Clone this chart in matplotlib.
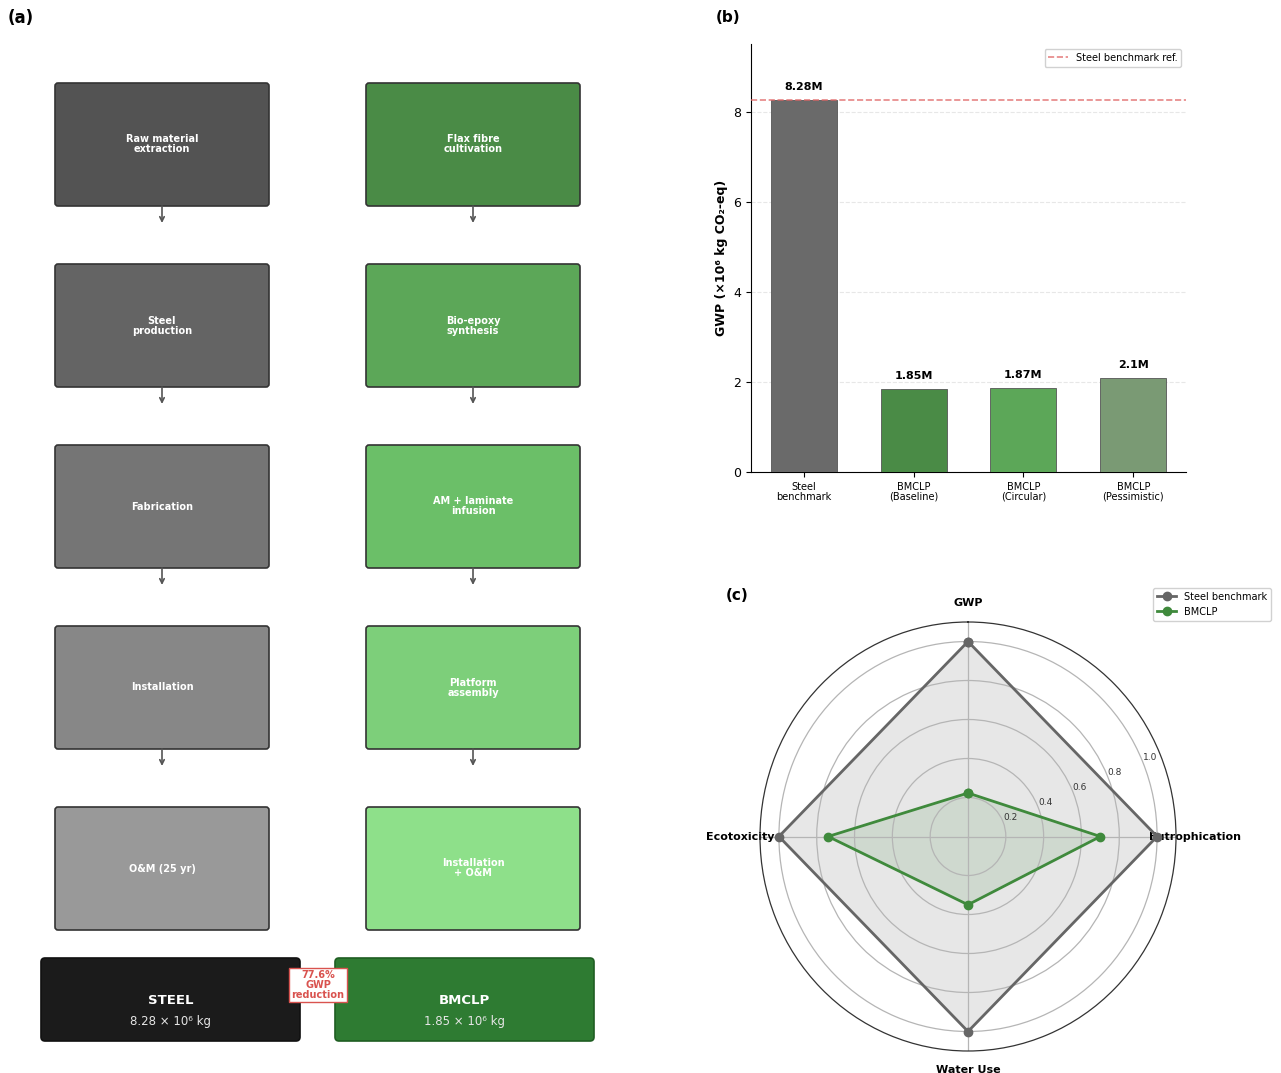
import numpy as np
import matplotlib
matplotlib.use("Agg")
import matplotlib.pyplot as plt
from matplotlib.patches import FancyBboxPatch

# ---- data -------------------------------------------------------------
steel_stages = ["Raw material\nextraction", "Steel\nproduction", "Fabrication",
                "Installation", "O&M (25 yr)"]
bmclp_stages = ["Flax fibre\ncultivation", "Bio-epoxy\nsynthesis", "AM + laminate\ninfusion",
                "Platform\nassembly", "Installation\n+ O&M"]
steel_colors = ["#535353", "#646464", "#757575", "#878787", "#999999"]
bmclp_colors = ["#4a8b46", "#5ca758", "#6bbf68", "#7dcf7a", "#8ee08a"]

steel_total = 8.28
bmclp_total = 1.85
reduction_text = "77.6%\nGWP\nreduction"

scenarios = ["Steel\nbenchmark", "BMCLP\n(Baseline)", "BMCLP\n(Circular)", "BMCLP\n(Pessimistic)"]
gwp_values = [8.28, 1.85, 1.87, 2.1]
bar_colors = ["#6a6a6a", "#4a8b46", "#5ca758", "#7a9a74"]

radar_categories = ["GWP", "Eutrophication", "Water Use", "Ecotoxicity"]
radar_steel = [1.0, 1.0, 1.0, 1.0]
radar_bmclp = [0.223, 0.70, 0.35, 0.74]

# ---- figure -----------------------------------------------------------
W, H = 1281, 1073
fig = plt.figure(figsize=(W / 100, H / 100), dpi=100)
fig.patch.set_facecolor("white")

# ---- (a) life-cycle flow ---------------------------------------------
ax_a = fig.add_axes([0, 0, 640.5 / W, 1])
ax_a.set_xlim(0, 640.5)
ax_a.set_ylim(H, 0)
ax_a.axis("off")

col_x = [162, 473]
box_w, box_h = 214, 123
row_top0, row_step = 83, 181
for col, (labels, colors) in enumerate([(steel_stages, steel_colors),
                                         (bmclp_stages, bmclp_colors)]):
    cx = col_x[col]
    for i, (lab, c) in enumerate(zip(labels, colors)):
        top = row_top0 + i * row_step
        box = FancyBboxPatch((cx - box_w / 2, top), box_w, box_h,
                             boxstyle="round,pad=0,rounding_size=3",
                             facecolor=c, edgecolor="#333333", linewidth=1.2)
        ax_a.add_patch(box)
        ax_a.text(cx, top + box_h / 2, lab, ha="center", va="center",
                  color="white", fontsize=7, fontweight="bold", linespacing=1.0)
        if i < len(labels) - 1:
            ax_a.annotate("", xy=(cx, top + box_h + 17), xytext=(cx, top + box_h),
                          arrowprops=dict(arrowstyle="->", color="#555555", lw=1.2,
                                          shrinkA=0, shrinkB=0, mutation_scale=8))

# summary boxes
sum_w, sum_h, sum_top = 259, 83, 958
for cx, title, val, fc, ec in [(170.5, "STEEL", steel_total, "#1b1b1b", "#111111"),
                               (464.5, "BMCLP", bmclp_total, "#2e7b32", "#1f5e22")]:
    box = FancyBboxPatch((cx - sum_w / 2, sum_top), sum_w, sum_h,
                         boxstyle="round,pad=0,rounding_size=4",
                         facecolor=fc, edgecolor=ec, linewidth=1.2)
    ax_a.add_patch(box)
    ax_a.text(cx, sum_top + 42, title, ha="center", va="center", color="white",
              fontsize=9.5, fontweight="bold")
    ax_a.text(cx, sum_top + 63, f"{val:.2f} × 10⁶ kg", ha="center", va="center",
              color="#e6e6e6", fontsize=8.5)

ax_a.text(318, 985, reduction_text, ha="center", va="center", color="#d9534f",
          fontsize=7, fontweight="bold", linespacing=1.0,
          bbox=dict(boxstyle="square,pad=0.25", facecolor="white",
                    edgecolor="#d9534f", linewidth=1.0))

fig.text(8 / W, 1 - 18 / H, "(a)", fontsize=12, fontweight="bold", va="center")

# ---- (b) GWP bar chart ------------------------------------------------
ax_b = fig.add_axes([751 / W, 1 - 472 / H, 435 / W, 428 / H])
x = np.arange(len(scenarios))
bars = ax_b.bar(x, gwp_values, width=0.6, color=bar_colors,
                edgecolor="#555555", linewidth=0.6, zorder=3)
for rect, v in zip(bars, gwp_values):
    ax_b.text(rect.get_x() + rect.get_width() / 2, v + 0.18, f"{v}M",
              ha="center", va="bottom", fontsize=8, fontweight="bold")
ax_b.axhline(steel_total, color="#e06666", linestyle="--", linewidth=1.2,
             alpha=0.8, label="Steel benchmark ref.", zorder=4)
ax_b.set_ylim(0, steel_total * 1.15)
ax_b.set_xticks(x)
ax_b.set_xticklabels(scenarios, fontsize=7, linespacing=1.0)
ax_b.tick_params(axis="y", labelsize=9)
ax_b.set_ylabel("GWP (×10⁶ kg CO₂-eq)", fontsize=9, fontweight="bold")
ax_b.yaxis.grid(True, linestyle="--", alpha=0.3, zorder=0)
ax_b.set_axisbelow(True)
for s in ["top", "right"]:
    ax_b.spines[s].set_visible(False)
ax_b.legend(loc="upper right", fontsize=7, framealpha=0.9)
fig.text(716 / W, 1 - 17 / H, "(b)", fontsize=11, fontweight="bold", va="center")

# ---- (c) radar --------------------------------------------------------
ax_c = fig.add_axes([760 / W, 22 / H, 416 / W, 429 / H], projection="polar")
ax_c.set_aspect("auto")
ax_c.set_theta_offset(np.pi / 2)
ax_c.set_theta_direction(-1)
angles = np.linspace(0, 2 * np.pi, len(radar_categories), endpoint=False)
ang_closed = np.concatenate([angles, angles[:1]])
steel_closed = radar_steel + radar_steel[:1]
bmclp_closed = radar_bmclp + radar_bmclp[:1]
ax_c.plot(ang_closed, steel_closed, "o-", color="#666666", linewidth=2,
          markersize=6, label="Steel benchmark")
ax_c.fill(ang_closed, steel_closed, color="#888888", alpha=0.2)
ax_c.plot(ang_closed, bmclp_closed, "o-", color="#3f8a3c", linewidth=2,
          markersize=6, label="BMCLP")
ax_c.fill(ang_closed, bmclp_closed, color="#4a8b46", alpha=0.15)
ax_c.set_xticks(angles)
ax_c.set_xticklabels(radar_categories, fontsize=8, fontweight="bold")
ax_c.set_ylim(0, 1.1)
ax_c.set_yticks([0.2, 0.4, 0.6, 0.8, 1.0])
ax_c.set_yticklabels(["0.2", "0.4", "0.6", "0.8", "1.0"], fontsize=6.5, color="#333333")
ax_c.set_rlabel_position(67.5)
ax_c.grid(color="#b5b5b5", linewidth=0.9)
ax_c.spines["polar"].set_color("#333333")
ax_c.spines["polar"].set_linewidth(0.9)
ax_c.legend(loc="upper right", bbox_to_anchor=(1276 / W, 1 - 583 / H),
            bbox_transform=fig.transFigure, fontsize=7, framealpha=0.9)
fig.text(726 / W, 1 - 595 / H, "(c)", fontsize=11, fontweight="bold", va="center")

fig.savefig("out.png", dpi=100, facecolor="white")
